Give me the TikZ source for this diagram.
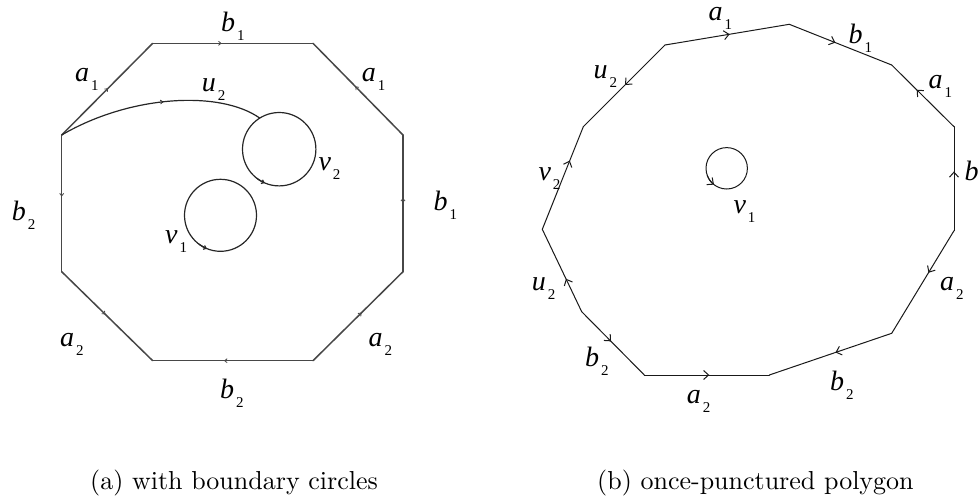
\documentclass[tikz,border=0pt]{standalone}
\usepackage{fontspec}
\newfontfamily\tms{Liberation Serif}
\newfontfamily\capfont{lmroman10-regular}[Extension=.otf]
\usetikzlibrary{decorations.markings,arrows.meta,calc}
\newcommand\lbl[2]{{\tms\fontsize{28}{28}\selectfont\itshape #1}\kern2pt\raisebox{-9pt}{\tms\fontsize{15}{15}\selectfont #2}}
\begin{document}
\begin{tikzpicture}[x=1pt,y=-1pt,
  lab/.style={inner sep=0pt, anchor=base west},
  captext/.style={inner sep=0pt, anchor=base west, font=\capfont\fontsize{26}{26}\selectfont},
  edgeL/.style={draw=black!72, line width=1.5pt, line cap=round},
  curveL/.style={draw=black!85, line width=1.2pt},
  edgeR/.style={draw=black!90, line width=1pt, line cap=round},
  tipL/.style={-{Straight Barb[length=2.5pt,width=4pt]}},
  arrL/.style={postaction={decorate}, decoration={markings, mark=at position #1 with {\arrow[line width=0.8pt]{Straight Barb[length=2.5pt,width=4pt]}}}},
  arrR/.style={postaction={decorate}, decoration={markings, mark=at position #1 with {\arrow[line width=1pt]{Straight Barb[length=5pt,width=9pt]}}}},
]
\useasboundingbox (0,0) rectangle (980,499);
% ---------- left octagon
\coordinate (L1) at (61.7,135);
\coordinate (L2) at (152.7,43.3);
\coordinate (L3) at (313,43.3);
\coordinate (L4) at (403,135);
\coordinate (L5) at (403,271.7);
\coordinate (L6) at (313,360.7);
\coordinate (L7) at (152.7,360.7);
\coordinate (L8) at (61.7,271.7);
\draw[edgeL,arrL=0.51] (L1) -- (L2);
\draw[edgeL,arrL=0.43] (L2) -- (L3);
\draw[edgeL,arrL=0.53] (L4) -- (L3);
\draw[edgeL,arrL=0.54] (L5) -- (L4);
\draw[edgeL,arrL=0.45] (L1) -- (L8);
\draw[edgeL,arrL=0.48] (L8) -- (L7);
\draw[edgeL,arrL=0.54] (L6) -- (L5);
\draw[edgeL,arrL=0.555] (L6) -- (L7);
% circles
\coordinate (C2) at (279.2,149.2);
\coordinate (C1) at (220.5,215.3);
\draw[curveL] (C2) circle[radius=36.7];
\draw[curveL] (C1) circle[radius=36];
\draw[curveL,tipL] (C2) ++(128:36.7) arc[start angle=128,end angle=113,radius=36.7];
\draw[curveL,tipL] (C1) ++(127:36) arc[start angle=127,end angle=112,radius=36];
\coordinate (P) at ($(C2)+(238:36.7)$);
\draw[curveL,arrL=0.52] (L1) .. controls (130,95) and (220,90) .. (P);
% labels left
\node[lab] (lb1t) at (221,31.7) {\lbl{b}{1}};
\node[lab] (la1l) at (75,81.7) {\lbl{a}{1}};
\node[lab] (la1r) at (361.7,81.7) {\lbl{a}{1}};
\node[lab] (lu2) at (201.7,91.7) {\lbl{u}{2}};
\node[lab] (lv2) at (318.3,170) {\lbl{v}{2}};
\node[lab] (lb1r) at (433.3,210) {\lbl{b}{1}};
\node[lab] (lb2l) at (11.7,220) {\lbl{b}{2}};
\node[lab] (lv1) at (165,243.3) {\lbl{v}{1}};
\node[lab] (la2l) at (60,346.7) {\lbl{a}{2}};
\node[lab] (la2r) at (368.3,346.7) {\lbl{a}{2}};
\node[lab] (lb2b) at (220,398.3) {\lbl{b}{2}};
% ---------- right polygon
\coordinate (V1) at (665,45);
\coordinate (V2) at (789.3,24.3);
\coordinate (V3) at (891.7,65);
\coordinate (V4) at (954,126.7);
\coordinate (V5) at (954,230.7);
\coordinate (V6) at (891.7,333.3);
\coordinate (V7) at (769.3,375);
\coordinate (V8) at (644.3,375);
\coordinate (V9) at (581.7,311.7);
\coordinate (V10) at (542.3,229.3);
\coordinate (V11) at (583.3,126.7);
\draw[edgeR,arrR=0.52] (V1) -- (V2);
\draw[edgeR,arrR=0.45] (V2) -- (V3);
\draw[edgeR,arrR=0.60] (V4) -- (V3);
\draw[edgeR,arrR=0.57] (V5) -- (V4);
\draw[edgeR,arrR=0.41] (V5) -- (V6);
\draw[edgeR,arrR=0.46] (V6) -- (V7);
\draw[edgeR,arrR=0.52] (V8) -- (V7);
\draw[edgeR,arrR=0.47] (V9) -- (V8);
\draw[edgeR,arrR=0.40] (V9) -- (V10);
\draw[edgeR,arrR=0.67] (V10) -- (V11);
\draw[edgeR,arrR=0.49] (V1) -- (V11);
\coordinate (C3) at (726.7,168.3);
\draw[edgeR] (C3) circle[radius=20.7];
\draw[edgeR,-{Straight Barb[length=5pt,width=9pt]}] (C3) ++(160:20.7) arc[start angle=160,end angle=128,radius=20.7];
% labels right
\node[lab] (ra1t) at (708.3,20) {\lbl{a}{1}};
\node[lab] (rb1) at (848.3,43.3) {\lbl{b}{1}};
\node[lab] (ra1r) at (928.3,88.3) {\lbl{a}{1}};
\node[lab] (rb) at (964.5,180) {{\tms\fontsize{28}{28}\selectfont\itshape b}};
\node[lab] (ra2r) at (940,290) {\lbl{a}{2}};
\node[lab] (rb2r) at (830,390) {\lbl{b}{2}};
\node[lab] (ra2b) at (686.7,403.3) {\lbl{a}{2}};
\node[lab] (rb2l) at (585,366.7) {\lbl{b}{2}};
\node[lab] (ru2l) at (531.7,290) {\lbl{u}{2}};
\node[lab] (rv2) at (538.3,180) {\lbl{v}{2}};
\node[lab] (ru2u) at (593.3,78.3) {\lbl{u}{2}};
\node[lab] (rv1) at (733.3,213.3) {\lbl{v}{1}};
% captions
\node[captext] (capa) at (90,489) {(a) with boundary circles};
\node[captext] (capb) at (597,489) {(b) once-punctured polygon};
\end{tikzpicture}
\end{document}
